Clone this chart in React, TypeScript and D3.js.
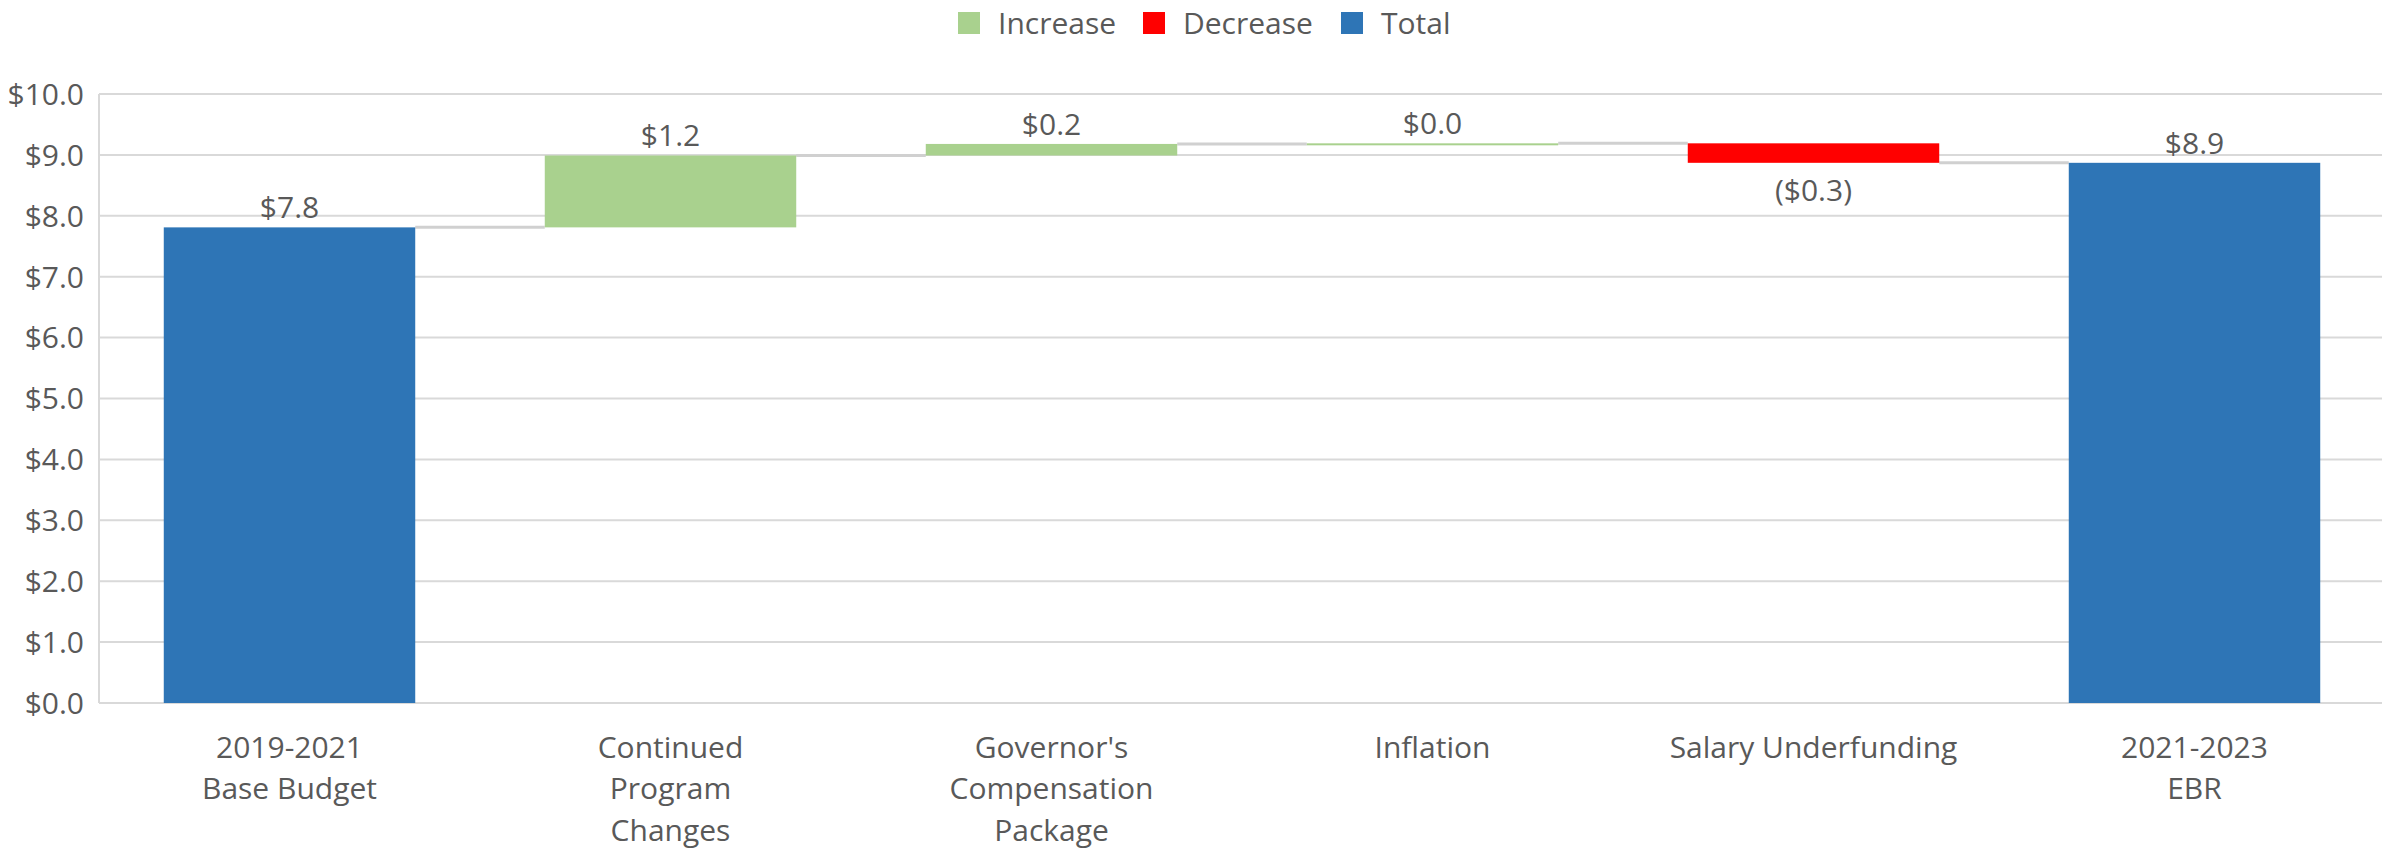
import React from "react";
import * as d3 from "d3";

const categoryLines: string[][] = [
  ["2019-2021", "Base Budget"],
  ["Continued", "Program", "Changes"],
  ["Governor's", "Compensation", "Package"],
  ["Inflation"],
  ["Salary Underfunding"],
  ["2021-2023", "EBR"],
];
const values: number[] = [7.81, 1.18, 0.19, 0.01, -0.32, 8.87];
const kinds: string[] = ["total", "increase", "increase", "increase", "decrease", "total"];
const yTicks: number[] = [0, 1, 2, 3, 4, 5, 6, 7, 8, 9, 10];
const legendItems: string[] = ["Increase", "Decrease", "Total"];
const legendKinds: string[] = ["increase", "decrease", "total"];

const colors: Record<string, string> = {
  increase: "#a9d18e",
  decrease: "#ff0000",
  total: "#2e75b6",
};

const W = 2382;
const H = 853;
const FONT = "'Open Sans', 'Noto Sans', sans-serif";
const TEXT = "#595959";
const GRID = "#d9d9d9";

function fmt(v: number): string {
  return v < 0 ? `($${Math.abs(v).toFixed(1)})` : `$${v.toFixed(1)}`;
}

export default function App() {
  const plotLeft = 99;
  const plotRight = 2385;
  const x = d3
    .scaleBand<number>()
    .domain(values.map((_, i) => i))
    .range([plotLeft, plotRight])
    .paddingInner(0.34)
    .paddingOuter(0.17);
  const y = d3.scaleLinear().domain([0, 10]).range([703, 94]);

  let running = 0;
  const segs = values.map((v, i) => {
    const kind = kinds[i];
    let lo: number, hi: number, end: number;
    if (kind === "total") {
      lo = 0;
      hi = v;
      end = v;
    } else {
      const start = running;
      end = running + v;
      lo = Math.min(start, end);
      hi = Math.max(start, end);
    }
    running = end;
    return { i, v, kind, lo, hi, end };
  });

  const bw = x.bandwidth();
  const legendX = [958, 1143, 1341];

  return (
    <svg
      width={W}
      height={H}
      style={{ position: "absolute", left: 0, top: 0, background: "#fff" }}
      fontFamily={FONT}
    >
      <rect x={0} y={0} width={W} height={H} fill="#fff" />
      {legendItems.map((name, k) => (
        <g key={name}>
          <rect x={legendX[k]} y={12} width={22} height={22} fill={colors[legendKinds[k]]} />
          <text x={legendX[k] + 40} y={23} dy="0.36em" fontSize={30} fill={TEXT}>
            {name}
          </text>
        </g>
      ))}
      {yTicks.map((t) => (
        <g key={t}>
          <line x1={plotLeft} x2={W} y1={y(t)} y2={y(t)} stroke={GRID} strokeWidth={2} />
          <text x={84} y={y(t)} dy="0.36em" textAnchor="end" fontSize={30} fill={TEXT}>
            {`$${t.toFixed(1)}`}
          </text>
        </g>
      ))}
      <line x1={plotLeft} x2={plotLeft} y1={y(10)} y2={y(0)} stroke={GRID} strokeWidth={2} />
      {segs.slice(0, -1).map((s) => (
        <line
          key={`c${s.i}`}
          x1={(x(s.i) as number) + bw}
          x2={x(s.i + 1) as number}
          y1={y(s.end)}
          y2={y(s.end)}
          stroke="#d0d0d0"
          strokeWidth={3}
        />
      ))}
      {segs.map((s) => {
        const top = y(s.hi);
        const h = Math.max(y(s.lo) - top, 2);
        return (
          <rect key={`b${s.i}`} x={x(s.i)} y={top} width={bw} height={h} fill={colors[s.kind]} />
        );
      })}
      {segs.map((s) => {
        const cx = (x(s.i) as number) + bw / 2;
        const below = s.v < 0;
        const ly = below ? y(s.lo) + 27 : y(s.hi) - 20;
        return (
          <text
            key={`l${s.i}`}
            x={cx}
            y={ly}
            dy="0.36em"
            textAnchor="middle"
            fontSize={30}
            fill={TEXT}
          >
            {fmt(s.v)}
          </text>
        );
      })}
      {categoryLines.map((lines, i) => (
        <text
          key={`x${i}`}
          x={(x(i) as number) + bw / 2}
          textAnchor="middle"
          fontSize={30}
          fill={TEXT}
        >
          {lines.map((ln, j) => (
            <tspan key={j} x={(x(i) as number) + bw / 2} y={747 + j * 41.5} dy="0.36em">
              {ln}
            </tspan>
          ))}
        </text>
      ))}
    </svg>
  );
}
